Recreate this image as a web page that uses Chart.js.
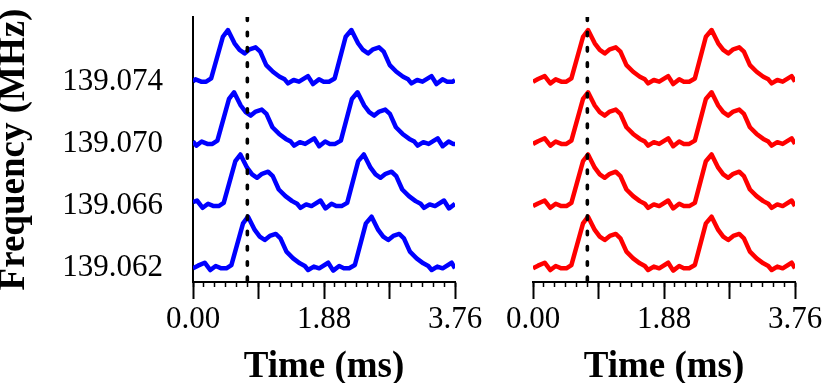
<!DOCTYPE html>
<html>
<head>
<meta charset="utf-8">
<script src="https://cdn.jsdelivr.net/npm/chart.js@4.4.1/dist/chart.umd.min.js"></script>
<style>
  body { margin: 0; background: #fff; }
  #wrap { position: relative; width: 830px; height: 383px; }
  canvas { position: absolute; top: 0; }
  #left { left: 0; }
  #right { left: 490px; }
</style>
</head>
<body>
<div id="wrap">
  <canvas id="left" width="490" height="383"></canvas>
  <canvas id="right" width="340" height="383"></canvas>
</div>
<script>
// channel frequencies (MHz), bottom to top
const freqs = [139.062, 139.066, 139.070, 139.074];
const timeLabels = [0, 1.88, 3.76];
const majorTicks = [0, 0.94, 1.88, 2.82, 3.76];
const markerTime = 0.78;

// profiles: [time (ms), offset from channel (kHz)]
// right panel - dedispersed, same profile in every channel
const redProfile = [
  [0, 0], [0.072, 0.17], [0.168, 0.36], [0.249, -0.11], [0.326, 0.15], [0.407, 0], [0.479, 0], [0.551, 0.21],
  [0.718, 2.89], [0.790, 3.32], [0.886, 2.47], [0.958, 2.04], [1.030, 1.82], [1.102, 2.08], [1.188, 2.21], [1.255, 1.93],
  [1.341, 1.07], [1.437, 0.64], [1.533, 0.32], [1.605, 0.15], [1.652, -0.11], [1.734, 0.11], [1.811, 0], [1.940, 0.36],
  [2.012, -0.15], [2.098, 0.15], [2.165, 0], [2.242, 0], [2.323, 0.21], [2.481, 2.89], [2.563, 3.32], [2.658, 2.47],
  [2.730, 2.04], [2.802, 1.82], [2.874, 2.08], [2.960, 2.21], [3.027, 1.93], [3.113, 1.07], [3.209, 0.64], [3.305, 0.32],
  [3.377, 0.15], [3.425, -0.11], [3.506, 0.11], [3.583, 0], [3.712, 0.36], [3.760, 0]
];

// left panel - dispersed
const blue062 = redProfile;
const blue066 = [
  [0, 0.26], [0.057, 0.36], [0.139, -0.11], [0.216, 0.15], [0.297, 0], [0.369, 0], [0.441, 0.21],
  [0.608, 2.89], [0.680, 3.32], [0.776, 2.47], [0.848, 2.04], [0.920, 1.82], [0.991, 2.08], [1.078, 2.21], [1.145, 1.93],
  [1.231, 1.07], [1.327, 0.64], [1.423, 0.32], [1.494, 0.15], [1.542, -0.11], [1.624, 0.11], [1.700, 0], [1.830, 0.36],
  [1.902, -0.15], [1.988, 0.15], [2.055, 0], [2.132, 0], [2.213, 0.21], [2.371, 2.89], [2.452, 3.32], [2.548, 2.47],
  [2.620, 2.04], [2.692, 1.82], [2.764, 2.08], [2.850, 2.21], [2.917, 1.93], [3.003, 1.07], [3.099, 0.64], [3.195, 0.32],
  [3.267, 0.15], [3.315, -0.11], [3.396, 0.11], [3.473, 0], [3.602, 0.36], [3.674, -0.15], [3.760, 0.15]
];
const blue070 = [
  [0, 0.17], [0.048, -0.11], [0.125, 0.15], [0.206, 0], [0.278, 0], [0.350, 0.21],
  [0.517, 2.89], [0.589, 3.32], [0.685, 2.47], [0.757, 2.04], [0.829, 1.82], [0.900, 2.08], [0.987, 2.21], [1.054, 1.93],
  [1.140, 1.07], [1.236, 0.64], [1.332, 0.32], [1.403, 0.15], [1.451, -0.11], [1.533, 0.11], [1.610, 0], [1.739, 0.36],
  [1.811, -0.15], [1.897, 0.15], [1.964, 0], [2.040, 0], [2.122, 0.21], [2.280, 2.89], [2.361, 3.32], [2.457, 2.47],
  [2.529, 2.04], [2.601, 1.82], [2.673, 2.08], [2.759, 2.21], [2.826, 1.93], [2.912, 1.07], [3.008, 0.64], [3.104, 0.32],
  [3.176, 0.15], [3.224, -0.11], [3.305, 0.11], [3.382, 0], [3.511, 0.36], [3.583, -0.15], [3.669, 0.15], [3.736, 0], [3.760, 0]
];
const blue074 = [
  [0, 0.02], [0.036, 0.15], [0.117, 0], [0.189, 0], [0.261, 0.21],
  [0.429, 2.89], [0.501, 3.32], [0.596, 2.47], [0.668, 2.04], [0.740, 1.82], [0.812, 2.08], [0.898, 2.21], [0.965, 1.93],
  [1.051, 1.07], [1.147, 0.64], [1.243, 0.32], [1.315, 0.15], [1.363, -0.11], [1.444, 0.11], [1.521, 0], [1.650, 0.36],
  [1.722, -0.15], [1.808, 0.15], [1.875, 0], [1.952, 0], [2.033, 0.21], [2.191, 2.89], [2.273, 3.32], [2.369, 2.47],
  [2.440, 2.04], [2.512, 1.82], [2.584, 2.08], [2.670, 2.21], [2.737, 1.93], [2.824, 1.07], [2.919, 0.64], [3.015, 0.32],
  [3.087, 0.15], [3.135, -0.11], [3.217, 0.11], [3.293, 0], [3.423, 0.36], [3.494, -0.15], [3.581, 0.15], [3.648, 0],
  [3.724, 0], [3.760, 0.09]
];

const blueTraces = [blue062, blue066, blue070, blue074];
const redTraces = [redProfile, redProfile, redProfile, redProfile];

const yMin = 139.06112, yMax = 139.07816;
const minorTicks = Array.from({ length: 25 }, (_, i) => i * 3.76 / 24);
const serif = "'Liberation Serif', 'Times New Roman', serif";

Chart.defaults.color = '#000';

function makeChart(id, traces, color, isLeft) {
    let datasets = [{
        // dotted marker
        data: [{ x: markerTime, y: yMax }, { x: markerTime, y: yMin }],
        borderColor: '#000',
        borderWidth: 3.6,
        borderDash: [3.5, 11.8],
        borderCapStyle: 'round',
        pointRadius: 0
    }];

    traces.forEach((tr, i) => {
        datasets.push({
            data: tr.map(p => ({ x: p[0], y: freqs[i] + p[1] / 1000 })),
            borderColor: color,
            borderWidth: 4.5,
            borderJoinStyle: 'round',
            pointRadius: 0,
            tension: 0
        });
    });

    return new Chart(document.getElementById(id), {
        type: 'line',
        data: { datasets: datasets },
        options: {
            responsive: false,
            animation: false,
            layout: { padding: { top: 17, bottom: 0, left: isLeft ? 0 : 43, right: 35 } },
            plugins: { legend: { display: false }, tooltip: { enabled: false } },
            scales: {
                xMinor: {
                    type: 'linear', position: 'bottom', weight: 0, min: 0, max: 3.76,
                    afterBuildTicks: s => { s.ticks = minorTicks.map(v => ({ value: v })); },
                    afterFit: s => { s.height = 0; s.paddingLeft = 0; s.paddingRight = 0; },
                    ticks: { display: false, autoSkip: false },
                    grid: { drawOnChartArea: false, tickLength: 5, tickWidth: 1.5, tickColor: '#000' },
                    border: { display: false }
                },
                x: {
                    type: 'linear', position: 'bottom', weight: 1, min: 0, max: 3.76,
                    afterBuildTicks: s => { s.ticks = majorTicks.map(v => ({ value: v })); },
                    afterFit: s => { s.height = 101; s.paddingLeft = 0; s.paddingRight = 0; },
                    ticks: {
                        autoSkip: false, maxRotation: 0, padding: 2,
                        font: { family: serif, size: 31 },
                        callback: v => timeLabels.includes(v) ? v.toFixed(2) : ''
                    },
                    grid: { drawOnChartArea: false, tickLength: 17, tickWidth: 2, tickColor: '#000' },
                    border: { color: '#000', width: 2 },
                    title: {
                        display: true, text: 'Time (ms)',
                        font: { family: serif, size: 37, weight: 'bold', lineHeight: 1 },
                        padding: { top: 0, bottom: -3 }
                    }
                },
                y: {
                    type: 'linear', display: isLeft, min: yMin, max: yMax,
                    afterBuildTicks: s => { s.ticks = freqs.map(v => ({ value: v })); },
                    afterFit: s => { s.width = isLeft ? 193 : 0; s.paddingTop = 0; s.paddingBottom = 0; },
                    ticks: {
                        padding: 30,
                        font: { family: serif, size: 31 },
                        callback: v => v.toFixed(3)
                    },
                    grid: { display: false, drawTicks: false },
                    border: { color: '#000', width: 2 },
                    title: {
                        display: true, text: 'Frequency (MHz)',
                        font: { family: serif, size: 37, weight: 'bold', lineHeight: 1 },
                        padding: { top: -4, bottom: 0 }
                    }
                }
            }
        }
    });
}

makeChart('left', blueTraces, '#0000ff', true);
makeChart('right', redTraces, '#ff0000', false);
</script>
</body>
</html>
